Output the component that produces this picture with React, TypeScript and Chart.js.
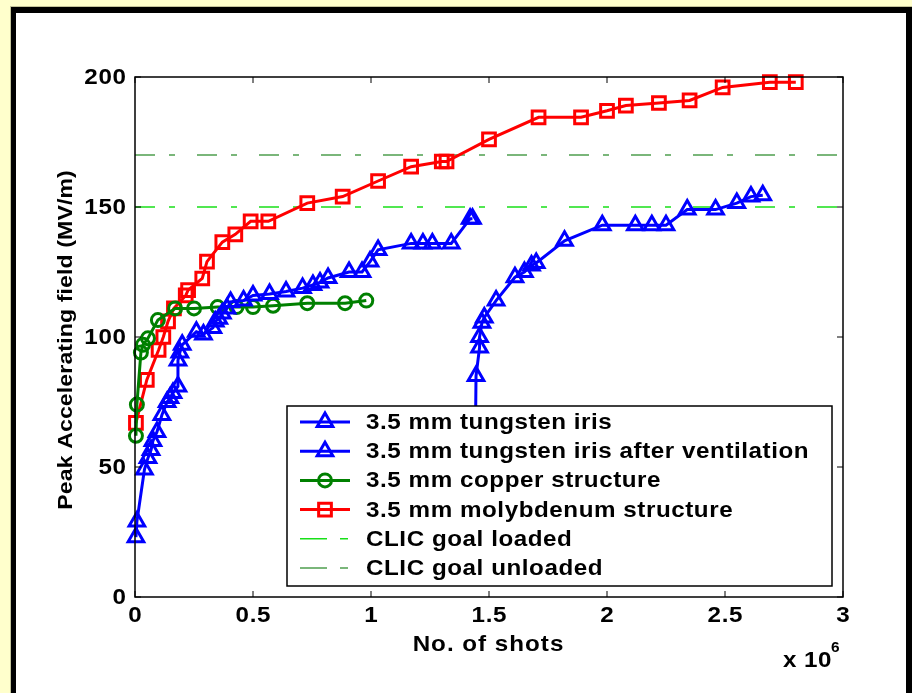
import React, { useEffect, useRef } from "react";
import { Chart, registerables } from "chart.js";

Chart.register(...registerables);

// x values in units of 10^6 shots
const tungstenX = [0.004, 0.008, 0.04, 0.055, 0.068, 0.076, 0.093, 0.114, 0.136, 0.148, 0.161, 0.182, 0.182, 0.19, 0.2, 0.26, 0.29, 0.33, 0.34, 0.355, 0.37, 0.39, 0.405, 0.46, 0.5, 0.57, 0.64, 0.71, 0.754, 0.784, 0.818, 0.907, 0.962, 0.996, 1.03, 1.17, 1.22, 1.26, 1.34, 1.42, 1.43];
const tungstenY = [23, 29, 49, 53.5, 56.5, 60, 63.5, 70, 75, 76.5, 78.5, 81, 91, 94, 97, 102, 101, 103.5, 106, 107, 109, 111, 113.5, 114, 116, 116.5, 117.5, 118.8, 120, 121, 122.7, 125, 125, 129, 133.5, 136, 136, 136, 136, 145.5, 145.5];

const ventX = [1.44, 1.445, 1.46, 1.46, 1.47, 1.48, 1.53, 1.61, 1.65, 1.68, 1.7, 1.82, 1.98, 2.12, 2.19, 2.25, 2.34, 2.46, 2.55, 2.61, 2.66];
const ventY = [40, 85, 96, 100, 105.5, 107.5, 114, 123, 125, 127.5, 128.5, 137, 143, 143, 143, 143, 149, 149, 151.5, 154, 154.5];

const copperX = [0.004, 0.008, 0.025, 0.034, 0.055, 0.097, 0.17, 0.25, 0.35, 0.43, 0.5, 0.585, 0.73, 0.89, 0.98];
const copperY = [62, 74, 94, 97, 99.5, 106.5, 111, 111, 111.5, 111.5, 111.5, 112, 113, 113, 114];

const molyX = [0.004, 0.05, 0.1, 0.12, 0.14, 0.165, 0.215, 0.225, 0.285, 0.305, 0.37, 0.425, 0.49, 0.565, 0.73, 0.88, 1.03, 1.17, 1.3, 1.32, 1.5, 1.71, 1.89, 2.0, 2.08, 2.22, 2.35, 2.49, 2.69, 2.8];
const molyY = [67, 83.5, 95, 100, 106, 111, 116, 118, 122.5, 129, 136.5, 139.5, 144.5, 144.5, 151.5, 154, 160, 165.5, 167.5, 167.5, 176, 184.5, 184.5, 187, 189, 190, 191, 196, 198, 198];

const goalLoaded = 150;
const goalUnloaded = 170;
const goalRangeX = [0, 3];

const xTicks = [0, 0.5, 1, 1.5, 2, 2.5, 3];
const xTickLabels = ["0", "0.5", "1", "1.5", "2", "2.5", "3"];
const yTicks = [0, 50, 100, 150, 200];
const yTickLabels = ["0", "50", "100", "150", "200"];

const seriesLabels = [
  "3.5 mm tungsten iris",
  "3.5 mm tungsten iris after ventilation",
  "3.5 mm copper structure",
  "3.5 mm molybdenum structure",
  "CLIC goal loaded",
  "CLIC goal unloaded",
];

const BLUE = "#0000ff";
const GREEN = "#008000";
const RED = "#ff0000";
const LOADED = "#18e018";
const UNLOADED = "#4f9f4f";
const FONT = "'Liberation Sans', Arial, sans-serif";
const SX = 1.1; // horizontal text stretch

const zip = (xs: number[], ys: number[]) => xs.map((x, i) => ({ x, y: ys[i] }));

function drawMarker(ctx: CanvasRenderingContext2D, style: string, x: number, y: number, r: number) {
  ctx.beginPath();
  if (style === "triangle") {
    ctx.moveTo(x, y - r);
    ctx.lineTo(x + r * Math.sqrt(3) / 2, y + r / 2);
    ctx.lineTo(x - r * Math.sqrt(3) / 2, y + r / 2);
    ctx.closePath();
  } else if (style === "circle") {
    ctx.arc(x, y, r, 0, Math.PI * 2);
  } else if (style === "rect") {
    const s = r * Math.SQRT1_2;
    ctx.rect(x - s, y - s, 2 * s, 2 * s);
  }
  ctx.stroke();
}

function stretchedText(
  ctx: any,
  text: string,
  x: number,
  y: number,
  align: "left" | "center" | "right",
  size: number,
  spacing: number
) {
  ctx.save();
  ctx.font = `bold ${size}px ${FONT}`;
  ctx.letterSpacing = `${spacing}px`;
  ctx.textAlign = "left";
  const w = (ctx.measureText(text).width - spacing) * SX;
  let x0 = x;
  if (align === "center") x0 = x - w / 2;
  else if (align === "right") x0 = x - w;
  ctx.translate(x0, y);
  ctx.scale(SX, 1);
  ctx.fillText(text, 0, 0);
  ctx.restore();
}

const decorPlugin = {
  id: "decor",
  afterDraw(chart: any) {
    const ctx = chart.ctx as any;
    const { left, right, top, bottom } = chart.chartArea;
    const xs = chart.scales.x;
    const ys = chart.scales.y;
    ctx.save();
    // box
    ctx.strokeStyle = "#000";
    ctx.lineWidth = 1.5;
    ctx.setLineDash([]);
    ctx.strokeRect(left, top, right - left, bottom - top);
    // inward ticks
    ctx.lineWidth = 1;
    const tl = 6;
    xTicks.forEach((v) => {
      const px = xs.getPixelForValue(v);
      ctx.beginPath();
      ctx.moveTo(px, bottom);
      ctx.lineTo(px, bottom - tl);
      ctx.moveTo(px, top);
      ctx.lineTo(px, top + tl);
      ctx.stroke();
    });
    yTicks.forEach((v) => {
      const py = ys.getPixelForValue(v);
      ctx.beginPath();
      ctx.moveTo(left, py);
      ctx.lineTo(left + tl, py);
      ctx.moveTo(right, py);
      ctx.lineTo(right - tl, py);
      ctx.stroke();
    });

    // tick labels
    ctx.fillStyle = "#000";
    ctx.textBaseline = "middle";
    xTicks.forEach((v, i) => {
      stretchedText(ctx, xTickLabels[i], xs.getPixelForValue(v), bottom + 19, "center", 22, 0.6);
    });
    yTicks.forEach((v, i) => {
      stretchedText(ctx, yTickLabels[i], left - 9, ys.getPixelForValue(v) + 1, "right", 22, 0.6);
    });

    // legend
    const lx = 287, ly = 406, lw = 832 - 287, lh = 586 - 406;
    ctx.fillStyle = "#fff";
    ctx.fillRect(lx, ly, lw, lh);
    ctx.strokeStyle = "#000";
    ctx.lineWidth = 1.5;
    ctx.strokeRect(lx, ly, lw, lh);
    const entries = [
      { color: BLUE, marker: "triangle", r: 9, dash: [] as number[], w: 3 },
      { color: BLUE, marker: "triangle", r: 9, dash: [] as number[], w: 3 },
      { color: GREEN, marker: "circle", r: 6.5, dash: [] as number[], w: 3 },
      { color: RED, marker: "rect", r: 9, dash: [] as number[], w: 3 },
      { color: LOADED, marker: "", r: 0, dash: [27, 13, 8, 20], w: 1.5 },
      { color: UNLOADED, marker: "", r: 0, dash: [27, 13, 8, 20], w: 1.5 },
    ];
    entries.forEach((e, i) => {
      const cy = 422 + i * 29.2;
      ctx.strokeStyle = e.color;
      ctx.lineWidth = e.w;
      ctx.setLineDash(e.dash);
      ctx.beginPath();
      ctx.moveTo(300, cy);
      ctx.lineTo(350, cy);
      ctx.stroke();
      ctx.setLineDash([]);
      if (e.marker) drawMarker(ctx, e.marker, 325, cy, e.r);
      ctx.fillStyle = "#000";
      ctx.textBaseline = "middle";
      stretchedText(ctx, seriesLabels[i], 366, cy + 1, "left", 22, 0.5);
    });

    // axis titles
    ctx.fillStyle = "#000";
    ctx.textBaseline = "middle";
    stretchedText(ctx, "No. of shots", 488, 645, "center", 22, 0.9);

    ctx.textBaseline = "alphabetic";
    stretchedText(ctx, "x 10", 783, 667, "left", 22, 0.4);
    stretchedText(ctx, "6", 831, 652, "left", 14, 0);

    ctx.save();
    ctx.translate(66, 340);
    ctx.rotate(-Math.PI / 2);
    ctx.textBaseline = "middle";
    stretchedText(ctx, "Peak Accelerating field (MV/m)", 0, 0, "center", 21, 0.1);
    ctx.restore();

    ctx.restore();
  },
};

export default function App() {
  const ref = useRef<HTMLCanvasElement | null>(null);

  useEffect(() => {
    if (!ref.current) return;
    const markerCommon = {
      pointBackgroundColor: "rgba(0,0,0,0)",
      pointBorderWidth: 3,
      borderWidth: 3,
      showLine: true,
      fill: false,
      tension: 0,
      clip: false,
    };
    const chart = new Chart(ref.current, {
      type: "scatter",
      data: {
        datasets: [
          {
            label: seriesLabels[0],
            data: zip(tungstenX, tungstenY),
            borderColor: BLUE,
            pointBorderColor: BLUE,
            pointStyle: "triangle",
            pointRadius: 9,
            ...markerCommon,
          },
          {
            label: seriesLabels[1],
            data: zip(ventX, ventY),
            borderColor: BLUE,
            pointBorderColor: BLUE,
            pointStyle: "triangle",
            pointRadius: 9,
            ...markerCommon,
          },
          {
            label: seriesLabels[2],
            data: zip(copperX, copperY),
            borderColor: GREEN,
            pointBorderColor: GREEN,
            pointStyle: "circle",
            pointRadius: 6.5,
            ...markerCommon,
          },
          {
            label: seriesLabels[3],
            data: zip(molyX, molyY),
            borderColor: RED,
            pointBorderColor: RED,
            pointStyle: "rect",
            pointRadius: 9,
            ...markerCommon,
          },
          {
            label: seriesLabels[4],
            data: goalRangeX.map((x) => ({ x, y: goalLoaded })),
            borderColor: LOADED,
            borderWidth: 1.5,
            borderDash: [20, 14, 6, 22],
            pointRadius: 0,
            showLine: true,
          },
          {
            label: seriesLabels[5],
            data: goalRangeX.map((x) => ({ x, y: goalUnloaded })),
            borderColor: UNLOADED,
            borderWidth: 1.5,
            borderDash: [20, 14, 6, 22],
            pointRadius: 0,
            showLine: true,
          },
        ],
      },
      options: {
        responsive: false,
        maintainAspectRatio: false,
        animation: false,
        events: [],
        layout: { padding: { left: 0, top: 77, right: 69, bottom: 0 } },
        plugins: { legend: { display: false }, tooltip: { enabled: false } },
        scales: {
          x: {
            type: "linear",
            min: 0,
            max: 3,
            afterFit: (s: any) => {
              s.height = 96;
            },
            ticks: { display: false, stepSize: 0.5 },
            grid: { display: false },
            border: { display: false },
          },
          y: {
            type: "linear",
            min: 0,
            max: 200,
            afterFit: (s: any) => {
              s.width = 135;
            },
            ticks: { display: false, stepSize: 50 },
            grid: { display: false },
            border: { display: false },
          },
        },
      } as any,
      plugins: [decorPlugin],
    });
    return () => chart.destroy();
  }, []);

  return (
    <div style={{ position: "fixed", left: 0, top: 0, width: 912, height: 693, background: "#ffffcc", overflow: "hidden" }}>
      <div
        style={{
          position: "absolute",
          left: 10,
          top: 6,
          width: 912 - 10,
          height: 700,
          boxSizing: "border-box",
          borderLeft: "1px solid #c4c49a",
          borderTop: "1px solid #c4c49a",
        }}
      >
        <div
          style={{
            position: "absolute",
            left: 0,
            top: 0,
            right: 0,
            bottom: 0,
            boxSizing: "border-box",
            background: "#fff",
            borderLeft: "5px solid #000",
            borderTop: "6px solid #000",
            borderRight: "6px solid #000",
          }}
        />
      </div>
      <canvas
        ref={ref}
        width={912}
        height={693}
        style={{ position: "absolute", left: 0, top: 0, width: 912, height: 693 }}
      />
    </div>
  );
}
